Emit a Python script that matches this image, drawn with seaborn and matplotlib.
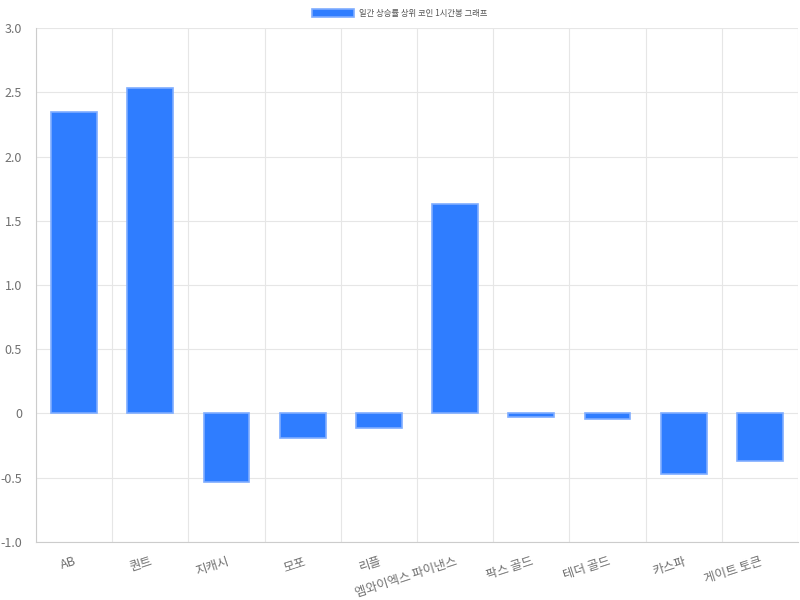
import matplotlib
matplotlib.use("Agg")
import matplotlib.pyplot as plt
import seaborn as sns
import numpy as np
from matplotlib.ticker import FixedLocator

coins = ["AB", "퀀트", "지캐시", "모포", "리플", "엠와이엑스 파이낸스",
         "팍스 골드", "테더 골드", "카스파", "게이트 토큰"]
changes = [2.35, 2.53, -0.53, -0.19, -0.11, 1.63, -0.03, -0.04, -0.47, -0.37]
series_name = "일간 상승률 상위 코인 1시간봉 그래프"
y_ticks = [-1.0, -0.5, 0, 0.5, 1.0, 1.5, 2.0, 2.5, 3.0]
y_tick_labels = ["-1.0", "-0.5", "0", "0.5", "1.0", "1.5", "2.0", "2.5", "3.0"]

sns.set_style("white")
plt.rcParams['font.family'] = ['Noto Sans CJK KR', 'DejaVu Sans']

fig, ax = plt.subplots(figsize=(8, 6), dpi=100)
fig.subplots_adjust(left=0.045, right=0.9975, top=0.9533, bottom=0.0967)

sns.barplot(x=coins, y=changes, ax=ax, width=0.6, color="#2F7DFF",
            edgecolor="#7FADFF", linewidth=1.2, saturation=1, label=series_name)

grid_c = "#E6E6E6"
ax.set_ylim(-1.0, 3.0)
ax.set_xlim(-0.5, len(coins) - 0.5)
ax.set_yticks(y_ticks)
ax.set_yticklabels(y_tick_labels)
ax.yaxis.grid(True, color=grid_c, linewidth=0.8)
ax.xaxis.set_minor_locator(FixedLocator(np.arange(-0.5, len(coins), 1.0)))
ax.xaxis.grid(True, which="minor", color=grid_c, linewidth=0.8)
ax.set_axisbelow(True)

ax.tick_params(axis="x", which="major", length=0, pad=9, labelsize=9, labelcolor="#707070")
ax.tick_params(axis="x", which="minor", length=8, color=grid_c, width=0.8)
ax.tick_params(axis="y", length=8, color=grid_c, width=0.8, labelsize=9,
               labelcolor="#707070", pad=2)
for lbl in ax.get_xticklabels():
    lbl.set_rotation(18)
    lbl.set_ha("right")
    lbl.set_va("top")
    lbl.set_rotation_mode("anchor")

for side in ["top", "right"]:
    ax.spines[side].set_visible(False)
for side in ["left", "bottom"]:
    ax.spines[side].set_color("#CCCCCC")
    ax.spines[side].set_linewidth(0.8)

ax.set_xlabel("")
ax.set_ylabel("")
ax.legend(loc="center", bbox_to_anchor=(0.5, 1 - 13.5 / 600),
          bbox_transform=fig.transFigure, frameon=False,
          fontsize=6, handlelength=5, handleheight=1.1, handletextpad=0.6,
          borderaxespad=0, borderpad=0, labelcolor="#555555")

fig.savefig("out.png", dpi=100)
